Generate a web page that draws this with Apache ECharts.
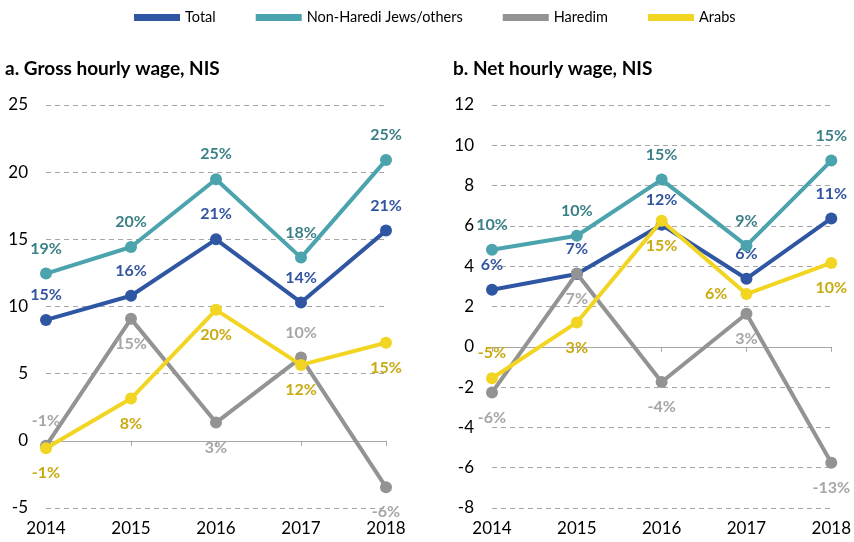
<!DOCTYPE html>
<html>
<head>
<meta charset="utf-8">
<script src="https://cdn.jsdelivr.net/npm/echarts@6/dist/echarts.min.js"></script>
<style>
  html, body { margin: 0; padding: 0; background: #fff; }
  #chart { width: 854px; height: 542px; }
</style>
</head>
<body>
<div id="chart"></div>
<script>
// categories
const YEARS = ['2014', '2015', '2016', '2017', '2018'];
const SERIES_NAMES = ['Total', 'Non-Haredi Jews/others', 'Haredim', 'Arabs'];

// a. gross hourly wage, NIS
const grossTotal = [9.0, 10.8, 15.0, 10.3, 15.65];
const grossNonHaredi = [12.45, 14.43, 19.47, 13.64, 20.9];
const grossHaredim = [-0.37, 9.08, 1.36, 6.2, -3.45];
const grossArabs = [-0.55, 3.15, 9.75, 5.65, 7.3];
const grossTotalPct = ['15%', '16%', '21%', '14%', '21%'];
const grossNonHarediPct = ['19%', '20%', '25%', '18%', '25%'];
const grossHaredimPct = ['-1%', '15%', '3%', '10%', '-6%'];
const grossArabsPct = ['-1%', '8%', '20%', '12%', '15%'];

// b. net hourly wage, NIS
const netTotal = [2.83, 3.61, 6.06, 3.38, 6.37];
const netNonHaredi = [4.82, 5.51, 8.3, 5.02, 9.24];
const netHaredim = [-2.27, 3.64, -1.75, 1.64, -5.75];
const netArabs = [-1.56, 1.21, 6.26, 2.62, 4.16];
const netTotalPct = ['6%', '7%', '12%', '6%', '11%'];
const netNonHarediPct = ['10%', '10%', '15%', '9%', '15%'];
const netHaredimPct = ['-6%', '7%', '-4%', '3%', '-13%'];
const netArabsPct = ['-5%', '3%', '15%', '6%', '10%'];

// 线条颜色 / 标签颜色
const LINE_COLOR = ['#2F56A3', '#4AA3AD', '#939393', '#F2D523'];
const LABEL_COLOR = ['#3355A0', '#3B8086', '#A6A6A6', '#C8AA10'];

// label placement for each point
const POS_GROSS = [
  ['top', 'top', 'top', 'top', 'top'],
  ['top', 'top', 'top', 'top', 'top'],
  ['top', 'bottom', 'bottom', 'top', 'bottom'],
  ['bottom', 'bottom', 'bottom', 'bottom', 'bottom']
];
const POS_NET = [
  ['top', 'top', 'top', 'top', 'top'],
  ['top', 'top', 'top', 'top', 'top'],
  ['bottom', 'bottom', 'bottom', 'bottom', 'bottom'],
  ['top', 'bottom', 'bottom', 'left', 'bottom']
];

const FONT = 'Lato, "Liberation Sans", sans-serif';

function makeSeries(idx, values, pcts, positions, xIdx, yIdx) {
  return {
    name: SERIES_NAMES[idx],
    type: 'line',
    xAxisIndex: xIdx,
    yAxisIndex: yIdx,
    symbol: 'circle',
    symbolSize: 12,
    color: LINE_COLOR[idx],
    lineStyle: { width: 4, color: LINE_COLOR[idx] },
    itemStyle: { color: LINE_COLOR[idx] },
    z: 2 + idx,
    data: values.map((v, i) => ({
      value: v,
      label: {
        show: true,
        position: positions[i],
        distance: positions[i] === 'left' ? 13 : 11,
        formatter: pcts[i],
        color: LABEL_COLOR[idx],
        fontFamily: FONT,
        fontWeight: 'bold',
        fontSize: 16
      }
    }))
  };
}

function labelAxis(gridIndex) {
  return {
    type: 'category',
    gridIndex: gridIndex,
    data: YEARS,
    boundaryGap: false,
    position: 'bottom',
    axisLine: { show: false, onZero: false },
    axisTick: { show: false },
    axisLabel: { color: '#000', fontSize: 17, fontFamily: FONT, margin: 12 },
    splitLine: { show: false }
  };
}

function zeroAxis(gridIndex) {
  return {
    type: 'category',
    gridIndex: gridIndex,
    data: YEARS,
    boundaryGap: false,
    position: 'bottom',
    axisLine: { show: true, onZero: true, lineStyle: { color: '#A6A6A6', width: 1 } },
    axisTick: { show: true, length: 5, lineStyle: { color: '#A6A6A6' } },
    axisLabel: { show: false },
    splitLine: { show: false }
  };
}

function valueAxis(gridIndex, min, max, interval) {
  return {
    type: 'value',
    gridIndex: gridIndex,
    min: min,
    max: max,
    interval: interval,
    axisLine: { show: false },
    axisTick: { show: false },
    axisLabel: { color: '#000', fontSize: 17, fontFamily: FONT, margin: 18 },
    splitLine: { show: true, lineStyle: { color: '#A6A6A6', type: [5, 4], width: 1 } }
  };
}

const chart = echarts.init(document.getElementById('chart'));

chart.setOption({
  animation: false,
  backgroundColor: '#fff',
  title: [
    {
      text: 'a. Gross hourly wage, NIS',
      left: 5, top: 59, padding: 0,
      textStyle: { fontFamily: FONT, fontWeight: 'bold', fontSize: 19, color: '#000' }
    },
    {
      text: 'b. Net hourly wage, NIS',
      left: 453, top: 59, padding: 0,
      textStyle: { fontFamily: FONT, fontWeight: 'bold', fontSize: 19, color: '#000' }
    }
  ],
  legend: {
    data: SERIES_NAMES.map((n, i) => ({ name: n, icon: 'rect', itemStyle: { color: LINE_COLOR[i] } })),
    left: 134,
    top: 10,
    padding: 0,
    itemWidth: 46,
    itemHeight: 7,
    itemGap: 40,
    selectedMode: false,
    textStyle: { fontFamily: FONT, fontSize: 14.5, color: '#000' }
  },
  grid: [
    { left: 46, top: 105, width: 340, height: 403 },
    { left: 492, top: 105, width: 341, height: 403 }
  ],
  xAxis: [labelAxis(0), zeroAxis(0), labelAxis(1), zeroAxis(1)],
  yAxis: [valueAxis(0, -5, 25, 5), valueAxis(1, -8, 12, 2)],
  series: [
    makeSeries(0, grossTotal, grossTotalPct, POS_GROSS[0], 0, 0),
    makeSeries(1, grossNonHaredi, grossNonHarediPct, POS_GROSS[1], 0, 0),
    makeSeries(2, grossHaredim, grossHaredimPct, POS_GROSS[2], 0, 0),
    makeSeries(3, grossArabs, grossArabsPct, POS_GROSS[3], 0, 0),
    makeSeries(0, netTotal, netTotalPct, POS_NET[0], 2, 1),
    makeSeries(1, netNonHaredi, netNonHarediPct, POS_NET[1], 2, 1),
    makeSeries(2, netHaredim, netHaredimPct, POS_NET[2], 2, 1),
    makeSeries(3, netArabs, netArabsPct, POS_NET[3], 2, 1)
  ]
});
</script>
</body>
</html>
